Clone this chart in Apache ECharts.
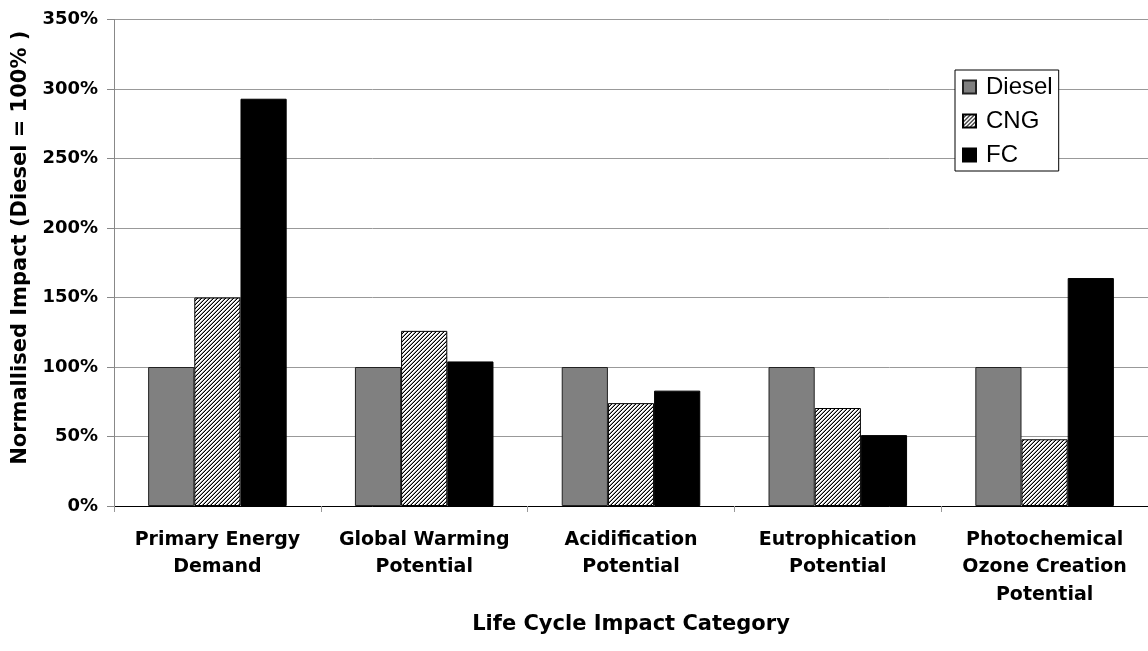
<!DOCTYPE html>
<html>
<head>
<meta charset="utf-8">
<script src="https://cdn.jsdelivr.net/npm/echarts@6/dist/echarts.min.js"></script>
<style>
  html, body { margin: 0; padding: 0; background: #fff; }
  #chart { width: 1148px; height: 651px; }
</style>
</head>
<body>
<div id="chart"></div>
<script>
/*
 * 生命周期影响 - 归一化柱状图
 */
var categories = ['Primary Energy\nDemand', 'Global Warming\nPotential', 'Acidification\nPotential', 'Eutrophication\nPotential', 'Photochemical\nOzone Creation\nPotential'];
var seriesNames = ['Diesel', 'CNG', 'FC'];
var dieselValues = [100, 100, 100, 100, 100];
var cngValues = [150, 126, 74, 70.5, 48];
var fcValues = [293, 104, 83, 51, 164];
var yMax = 350;
var yStep = 50;

// 斜线填充
function makeHatch(){
    var c = document.createElement('canvas');
    c.width = 4; c.height = 4;
    var ctx = c.getContext('2d');
    var img = ctx.createImageData(4, 4);
    for(var y = 0; y < 4; y++){
        for(var x = 0; x < 4; x++){
            var k = (x + y) % 4, v = 255;
            if(k == 3) v = 0;
            else if(k == 2) v = 150;
            var i = (y * 4 + x) * 4;
            img.data[i] = v; img.data[i+1] = v; img.data[i+2] = v; img.data[i+3] = 255;
        }
    }
    ctx.putImageData(img, 0, 0);
    return c;
}

var boldFont = 'DejaVu Sans';
var chart = echarts.init(document.getElementById('chart'));

var option = {
    animation: false,
    backgroundColor: '#fff',
    grid: { left: 114, right: -3, top: 19.5, bottom: 145, containLabel: false },
    legend: {
        data: seriesNames,
        orient: 'vertical',
        left: 955,
        top: 70,
        padding: [5, 6, 4, 7],
        itemGap: 10,
        itemWidth: 13,
        itemHeight: 13,
        icon: 'rect',
        borderColor: '#000',
        borderWidth: 1,
        backgroundColor: '#fff',
        textStyle: { fontFamily: 'Liberation Sans', fontSize: 24, color: '#000', padding: [0, 0, 0, 5] }
    },
    xAxis: {
        type: 'category',
        data: categories,
        name: 'Life Cycle Impact Category',
        nameLocation: 'middle',
        nameGap: 108,
        nameTextStyle: { fontFamily: boldFont, fontWeight: 'bold', fontSize: 21, color: '#000' },
        axisLine: { lineStyle: { color: '#000', width: 1 } },
        axisTick: { show: true, length: 6, lineStyle: { color: '#999' } },
        axisLabel: {
            interval: 0, margin: 20,
            fontFamily: boldFont, fontWeight: 'bold', fontSize: 19, lineHeight: 27.5, color: '#000'
        }
    },
    yAxis: {
        type: 'value',
        min: 0, max: yMax, interval: yStep,
        name: 'Normallised Impact (Diesel = 100% )',
        nameLocation: 'middle',
        nameGap: 82,
        nameTextStyle: { fontFamily: boldFont, fontWeight: 'bold', fontSize: 21, color: '#000', padding: [0, 0, 0, 30] },
        axisLine: { show: true, lineStyle: { color: '#888' } },
        axisTick: { show: true, length: 7, lineStyle: { color: '#888' } },
        splitLine: { lineStyle: { color: '#999', width: 1 } },
        axisLabel: {
            margin: 16,
            fontFamily: boldFont, fontWeight: 'bold', fontSize: 18, color: '#000',
            formatter: '{value}%'
        }
    },
    series: [
        {
            name: seriesNames[0], type: 'bar', data: dieselValues,
            barGap: '0%', barCategoryGap: '33%',
            itemStyle: { color: '#808080', borderColor: '#222', borderWidth: 1 }
        },
        {
            name: seriesNames[1], type: 'bar', data: cngValues,
            itemStyle: { color: { image: makeHatch(), repeat: 'repeat' }, borderColor: '#000', borderWidth: 1 }
        },
        {
            name: seriesNames[2], type: 'bar', data: fcValues,
            itemStyle: { color: '#000', borderColor: '#000', borderWidth: 1 }
        }
    ]
};
chart.setOption(option);
</script>
</body>
</html>
